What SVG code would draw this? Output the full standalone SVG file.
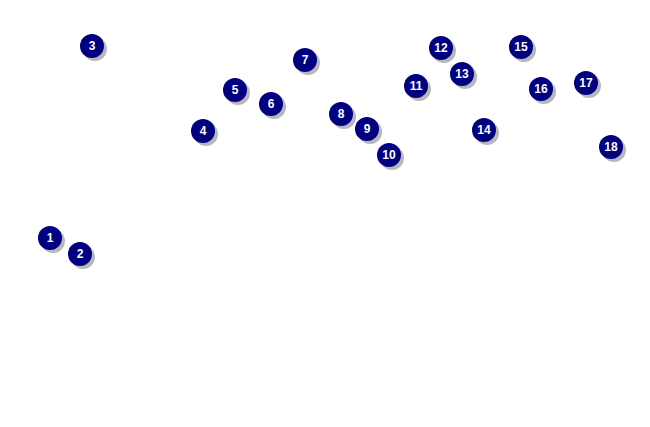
<svg xmlns="http://www.w3.org/2000/svg" width="650" height="427" viewBox="0 0 650 427">
<defs><style>
.s{fill:#9a9a9a;opacity:0.7}
.c{fill:#000080}
.t{fill:#fff;font-family:"Liberation Sans",Arial,sans-serif;font-weight:bold;font-size:12px;text-anchor:middle}
</style>
<g id="m"><circle class="s" cx="3" cy="3" r="12"/><circle class="c" r="12"/></g>
</defs>
<rect width="650" height="427" fill="#fff"/>
<g id="connectors"/>
<g id="n1"><use href="#m" x="50" y="238"/><text class="t" x="50" y="242">1</text></g>
<g id="n2"><use href="#m" x="80" y="254"/><text class="t" x="80" y="258">2</text></g>
<g id="n3"><use href="#m" x="92" y="46"/><text class="t" x="92" y="50">3</text></g>
<g id="n4"><use href="#m" x="203" y="131"/><text class="t" x="203" y="135">4</text></g>
<g id="n5"><use href="#m" x="235" y="90"/><text class="t" x="235" y="94">5</text></g>
<g id="n6"><use href="#m" x="271" y="104"/><text class="t" x="271" y="108">6</text></g>
<g id="n7"><use href="#m" x="305" y="60"/><text class="t" x="305" y="64">7</text></g>
<g id="n8"><use href="#m" x="341" y="114"/><text class="t" x="341" y="118">8</text></g>
<g id="n9"><use href="#m" x="367" y="129"/><text class="t" x="367" y="133">9</text></g>
<g id="n10"><use href="#m" x="389" y="155"/><text class="t" x="389" y="159">10</text></g>
<g id="n11"><use href="#m" x="416" y="86"/><text class="t" x="416" y="90">11</text></g>
<g id="n12"><use href="#m" x="441" y="48"/><text class="t" x="441" y="52">12</text></g>
<g id="n13"><use href="#m" x="462" y="74"/><text class="t" x="462" y="78">13</text></g>
<g id="n14"><use href="#m" x="484" y="130"/><text class="t" x="484" y="134">14</text></g>
<g id="n15"><use href="#m" x="521" y="47"/><text class="t" x="521" y="51">15</text></g>
<g id="n16"><use href="#m" x="541" y="89"/><text class="t" x="541" y="93">16</text></g>
<g id="n17"><use href="#m" x="586" y="83"/><text class="t" x="586" y="87">17</text></g>
<g id="n18"><use href="#m" x="611" y="147"/><text class="t" x="611" y="151">18</text></g>
</svg>
